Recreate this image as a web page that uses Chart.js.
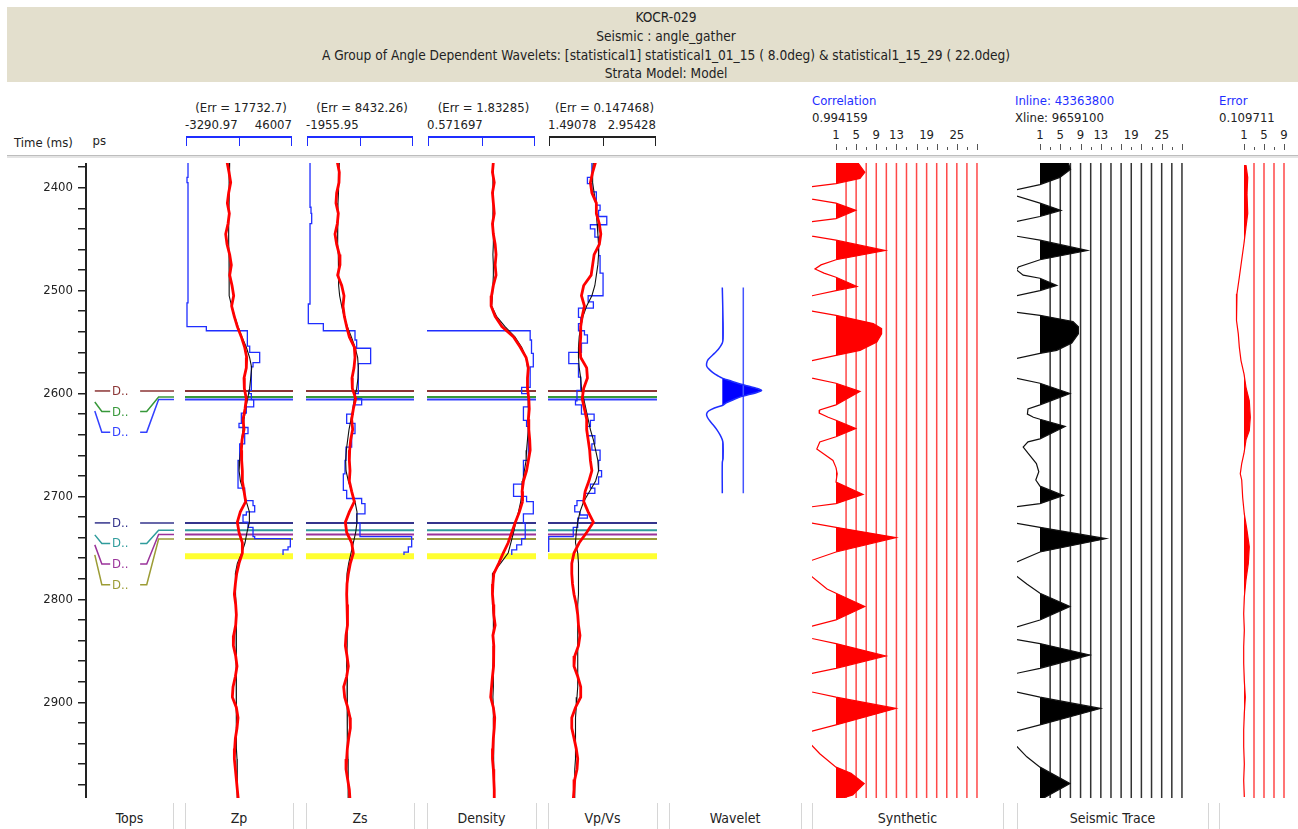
<!DOCTYPE html>
<html>
<head>
<meta charset="utf-8">
<style>
html, body { margin: 0; padding: 0; background: #fff; }
#page { position: relative; width: 1298px; height: 829px; overflow: hidden; font-family: "DejaVu Sans Condensed", "DejaVu Sans", sans-serif; color: #222; }
.t { position: absolute; white-space: nowrap; line-height: 16px; font-size: 13px; }
canvas { position: absolute; }
#banner { position: absolute; left: 7px; top: 7px; width: 1291px; height: 75px; background: #e3dfcd; }
</style>
</head>
<body>
<div id="page"><div id="banner"></div></div>
<script src="https://cdn.jsdelivr.net/npm/chart.js@4.4.1/dist/chart.umd.min.js"></script>
<script>
// ==================== DATOS ====================

const titleLines = [
  "KOCR-029",
  "Seismic : angle_gather",
  "A Group of Angle Dependent Wavelets: [statistical1] statistical1_01_15 ( 8.0deg) & statistical1_15_29 ( 22.0deg)",
  "Strata Model: Model",
];
const trackNames = ["Tops", "Zp", "Zs", "Density", "Vp/Vs", "Wavelet", "Synthetic", "Seismic Trace"];
const timeRange = [2376, 2993];

// log tracks: Zp, Zs, Density, Vp/Vs
const logErr = ["17732.7", "8432.26", "1.83285", "0.147468"];
const logMin = [-3290.97, -1955.95, 0.571697, 1.49078];
const logMax = [46007, 24000, 3.0, 2.95428];
const logMaxShown = [true, false, false, true];

// sample times of the log curves (ms)
const logTimes = Array.from({ length: 63 }, (_, i) => 2375 + 10 * i);

const zpBlack = [17100,16950,16800,16800,16800,16650,16650,16650,16650,16800, 16800,16800,16800,17100,18000,19400,20900,22700,24700,26200, 27150,26700,26200,25300,24400,23650,23200,22600,22100,21700, 21400,22000,23500,24700,26100,26100,25000,24100,22600,20600, 19700,19700,19850,20000,20150,20150,20300,20150,20150,20150, 20000,20000,20000,20150,20150,20300,20300,20300,20450,20450, 20600,20600,20600];
const zpRed = [15900,16800,17560,16650,16040,16950,16350,15280,15890,17100, 17860,17100,18170,18930,18000,19200,20600,22430,23950,24870, 24700,23650,23800,24700,24100,23200,23650,22740,22430,22580, 22890,22890,23650,24410,21970,20600,21370,22890,22890,21370, 20300,19700,19230,19850,20150,19850,18930,18780,19850,20450, 19700,18630,18320,20150,20910,20450,19700,19390,19240,19700, 20150,20600,21060];
const zpBlueT = [2375,2390,2395,2512,2535,2539,2554,2560,2570,2574,2597,2600,2606,2613,2619,2629,2633,2639,2649,2665,2692,2704,2709,2715,2718,2725,2730,2739,2741,2749,2752,2757];
const zpBlueV = [-1920,-2380,-1920,-2380,6450,25170,26240,30800,27760,27000,25930,27000,28060,24710,22430,21360,25470,23950,21670,20910,23950,27760,28520,24710,23190,25470,27760,28520,44800,43740,41460,41460];

const zsBlack = [6050,5970,5890,5810,5730,5650,5570,5650,5730,5810, 5810,5890,5970,6130,6620,7180,7980,8940,9820,10460, 10620,10540,10220,9660,9340,8860,8380,8060,7740,7580, 7660,8220,9020,9820,10300,10300,9980,9420,8860,8300, 7900,7820,7820,7820,7820,7900,7980,7900,7820,7820, 7900,7980,8060,7980,7900,7900,7980,8060,8140,8140, 8140,8220,8220];
const zsRed = [5570,6050,5970,5410,5250,5810,5570,5010,5410,6050, 6210,5650,6620,7180,6940,7260,7820,8460,9660,9820, 9580,9100,9180,9980,9420,9020,9260,8780,8540,8460, 8620,8460,9020,9660,8460,7500,7820,9020,9420,8700, 8220,7900,7820,7900,7980,8060,7660,7500,7900,8220, 7820,7100,7340,8060,8620,8700,8300,7980,7820,7660, 8060,8460,8620];
const zsBlueT = [2376,2419,2425,2435,2513,2532,2539,2548,2556,2571,2600,2605,2611,2620,2629,2639,2652,2665,2678,2694,2702,2707,2717,2726,2739,2749,2754,2757];
const zsBlueV = [-990,-750,-590,-990,-1400,2210,9820,10220,13580,10620,9820,11420,9420,7820,9820,9020,7660,7420,7020,7820,11420,12220,10220,11020,23440,22640,21590,21590];

const densBlack = [2.05,2.05,2.04,2.05,2.05,2.04,2.05,2.05,2.05,2.04, 2.05,2.05,2.04,2.03,2.01,2.12,2.31,2.53,2.68,2.78, 2.81,2.82,2.81,2.83,2.83,2.83,2.83,2.81,2.79,2.78, 2.74,2.71,2.69,2.66,2.61,2.55,2.50,2.44,2.38,2.21, 2.03,2.02,2.03,2.04,2.05,2.05,2.06,2.05,2.05,2.04, 2.05,2.05,2.04,2.05,2.05,2.06,2.06,2.05,2.05,2.06, 2.06,2.06,2.07];
const densRed = [2.05,2.03,2.07,2.03,2.05,2.07,2.03,2.05,2.09,2.11, 2.09,2.11,2.05,2.01,2.00,2.09,2.24,2.50,2.65,2.78, 2.83,2.81,2.81,2.84,2.85,2.83,2.84,2.86,2.87,2.83, 2.79,2.72,2.69,2.70,2.63,2.54,2.46,2.38,2.27,2.17, 2.06,2.04,2.03,2.05,2.06,2.09,2.04,2.06,2.06,2.05, 2.03,2.01,1.99,2.05,2.08,2.07,2.05,2.04,2.03,2.05, 2.06,2.07,2.07];
const densBlueT = [2375,2539,2548,2561,2574,2594,2600,2613,2626,2632,2665,2688,2700,2705,2717,2726,2741,2747,2752,2757];
const densBlueV = [0.3,2.87,2.90,2.94,2.87,2.68,2.83,2.72,2.79,2.83,2.72,2.50,2.79,2.94,2.72,2.76,2.68,2.57,2.46,2.46];

const vpvsBlack = [2.10,2.09,2.09,2.11,2.13,2.14,2.15,2.16,2.17,2.17, 2.16,2.14,2.12,2.08,2.01,1.96,1.93,1.91,1.90,1.90, 1.91,1.93,1.94,1.97,2.00,2.03,2.06,2.10,2.13,2.16, 2.17,2.13,2.05,1.97,1.92,1.89,1.87,1.86,1.89,1.90, 1.90,1.90,1.90,1.89,1.89,1.89,1.89,1.89,1.89,1.89, 1.89,1.89,1.88,1.87,1.86,1.86,1.86,1.86,1.86,1.85, 1.85,1.85,1.85];
const vpvsRed = [2.13,2.09,2.06,2.08,2.14,2.14,2.18,2.20,2.18,2.11, 2.09,2.07,1.97,1.94,1.98,1.95,1.93,1.93,1.92,1.93, 2.01,2.02,1.97,1.95,1.98,2.01,2.01,2.03,2.05,2.06, 2.08,2.04,1.99,1.97,2.03,2.10,2.01,1.91,1.84,1.81, 1.81,1.82,1.84,1.87,1.89,1.90,1.92,1.90,1.85,1.84, 1.89,1.93,1.93,1.86,1.81,1.81,1.84,1.87,1.89,1.88, 1.85,1.84,1.83];
const vpvsBlueT = [2376,2390,2396,2404,2417,2422,2428,2436,2440,2448,2466,2483,2505,2511,2517,2526,2532,2539,2543,2551,2560,2571,2584,2597,2607,2611,2620,2626,2632,2641,2649,2655,2665,2675,2681,2688,2692,2697,2704,2709,2715,2718,2721,2730,2739,2754];
const vpvsBlueV = [2.08,2.02,2.08,2.14,2.19,2.17,2.28,2.06,2.12,2.17,2.19,2.23,2.03,2.10,1.90,1.93,1.90,1.98,2.02,1.94,1.77,1.90,1.93,1.88,1.86,1.94,2.11,2.06,2.02,2.12,2.08,2.19,2.17,2.21,2.17,2.06,2.12,1.98,1.88,1.85,1.92,2.02,1.89,1.83,1.50,1.50];

// well tops
const topNames = ["D..", "D..", "D..", "D..", "D..", "D..", "D.."];
const topTimes = [2597.5, 2603.3, 2605.8, 2725.7, 2732.8, 2737.0, 2741.3];
const topColors = ["#8b3434", "#37983a", "#3340ff", "#34348c", "#2f9c9c", "#9a339a", "#9c9c35"];
const markerTime = 2758;

// wavelet (lag in ms around its centre)
const waveletCenter = 2597;
const waveletLags = [-100,-66,-50,-46,-40,-36,-30,-26,-23,-20,-17,-14,-12,-9,-6,-4,-2,0,2,4,6,9,12,14.6,17,20,23,26,30,34,38,43,48,52,66,70,100];
const waveletAmp = [0,0.02,0.02,0,-0.10,-0.20,-0.36,-0.40,-0.39,-0.32,-0.23,-0.10,0,0.24,0.48,0.68,0.88,1.0,0.88,0.68,0.48,0.28,0.10,0,-0.20,-0.35,-0.40,-0.38,-0.31,-0.22,-0.14,-0.06,0,0.02,0.02,0,0];

// synthetic trace
const synthTimes = [2373,2385,2391,2396,2399,2405,2411,2415,2422,2430,2433,2440,2447,2451,2461,2470,2475,2479,2483,2487,2496,2500,2505,2512,2520,2524,2532,2537,2542,2550,2558,2563,2568,2576,2585,2590,2598,2611,2616,2619,2623,2626,2634,2642,2647,2654,2658,2665,2672,2678,2686,2698,2707,2710,2718,2726,2730,2740,2754,2762,2770,2778,2790,2794,2807,2820,2826,2832,2838,2843,2855,2867,2872,2881,2890,2895,2906,2922,2928,2935,2942,2950,2963,2969,2979,2990,2995];
const synthAmp = [0.33,0.48,0.40,0,-0.40,-0.67,-0.40,0,0.33,0,-0.40,-0.92,-0.40,0,0.82,0,-0.25,-0.35,-0.20,0,0.35,0,-0.40,-0.83,-0.40,0,0.62,0.76,0.76,0.68,0.40,0,-0.40,-0.92,-0.40,0,0.40,0,-0.27,-0.28,-0.13,0,0.33,0,-0.27,-0.32,-0.22,-0.05,0,0.02,0,0.45,0,-0.40,-0.92,-0.40,0,1.0,0,-0.40,-0.83,-0.40,-0.15,0,0.48,0,-0.40,-0.75,-0.40,0,0.83,0,-0.40,-0.83,-0.40,0,1.0,0,-0.40,-0.67,-0.40,-0.27,0,0.25,0.47,0.28,0];

// seismic trace
const seisTimes = [2373,2382,2390,2397,2402,2405,2408,2415,2422,2428,2433,2440,2447,2451,2461,2470,2477,2480,2485,2488,2495,2500,2505,2512,2521,2524,2530,2535,2542,2551,2558,2561,2566,2575,2585,2590,2600,2611,2615,2620,2623,2625,2632,2644,2647,2652,2658,2668,2676,2684,2690,2699,2707,2710,2718,2726,2730,2741,2754,2764,2770,2777,2785,2794,2807,2820,2827,2833,2839,2843,2854,2867,2872,2881,2890,2895,2906,2922,2928,2935,2942,2953,2963,2979,2995];
const seisAmp = [0.45,0.51,0.33,0,-0.40,-0.58,-0.40,0,0.35,0,-0.40,-0.85,-0.40,0,0.79,0,-0.36,-0.39,-0.28,0,0.28,0,-0.40,-0.85,-0.40,0,0.55,0.64,0.64,0.53,0.28,0,-0.40,-0.92,-0.40,0,0.50,0,-0.20,-0.21,-0.11,0,0.42,0,-0.20,-0.28,-0.20,-0.06,-0.02,-0.07,0,0.39,0,-0.40,-0.92,-0.40,0,1.10,0,-0.40,-0.70,-0.40,-0.22,0,0.50,0,-0.40,-0.70,-0.40,0,0.83,0,-0.40,-0.90,-0.40,0,1.01,0,-0.40,-0.65,-0.40,-0.22,0,0.50,0];

// error trace
const errTimes = [2378,2390,2406,2425,2438,2454,2470,2487,2503,2516,2529,2542,2555,2568,2581,2594,2607,2623,2636,2645,2658,2668,2678,2684,2701,2717,2733,2749,2765,2781,2798,2814,2830,2846,2862,2879,2895,2911,2927,2943,2960,2976,2992];
const errAmp = [0.033,0.062,0.05,0.062,0.033,0,-0.038,-0.078,-0.117,-0.133,-0.117,-0.095,-0.078,-0.05,0,0.033,0.088,0.105,0.088,0.033,0,-0.038,-0.062,-0.038,-0.022,0.005,0.05,0.088,0.072,0.033,0.005,-0.005,0.005,-0.005,-0.005,0.005,0.022,0.005,-0.005,-0.005,0.005,-0.005,0.005];

const traceAngleLabels = [1, 5, 9, 13, 19, 25];
const errAngleLabels = [1, 5, 9];
const correlation = "0.994159";
const inlineNo = "43363800";
const xlineNo = "9659100";
const errorValue = "0.109711";

// ==================== MAQUETACIÓN ====================

const page = document.getElementById("page");
const FONT = "'DejaVu Sans Condensed', 'DejaVu Sans', sans-serif";
const PLOT_TOP = 163, PLOT_H = 635;
const BLUE = "#1f2eff";

const trackBox = [
  { left: 86, right: 173 },   // Tops
  { left: 185, right: 293 },  // Zp
  { left: 306, right: 414 },  // Zs
  { left: 427, right: 536 },  // Density
  { left: 548, right: 657 },  // Vp/Vs
  { left: 669, right: 801 },  // Wavelet
  { left: 812, right: 1003 }, // Synthetic
  { left: 1017, right: 1208 },// Seismic
  { left: 1219, right: 1298 },// Error
];

function text(str, x, yc, opt = {}) {
  const d = document.createElement("div");
  d.className = "t";
  d.textContent = str;
  d.style.top = yc - 8 + "px";
  if (opt.align === "center") {
    d.style.left = x + "px";
    d.style.transform = "translateX(-50%)";
  } else if (opt.align === "right") {
    d.style.right = 1298 - x + "px";
  } else {
    d.style.left = x + "px";
  }
  if (opt.size) d.style.fontSize = opt.size + "px";
  if (opt.color) d.style.color = opt.color;
  page.appendChild(d);
  return d;
}

function box(x, y, w, h, css) {
  const d = document.createElement("div");
  d.style.position = "absolute";
  d.style.left = x + "px";
  d.style.top = y + "px";
  d.style.width = w + "px";
  d.style.height = h + "px";
  Object.assign(d.style, css || {});
  page.appendChild(d);
  return d;
}

function makeChart(left, right, xMin, xMax, datasets, yExtra) {
  const c = document.createElement("canvas");
  const w = right - left;
  c.width = w;
  c.height = PLOT_H;
  c.style.left = left + "px";
  c.style.top = PLOT_TOP + "px";
  c.style.width = w + "px";
  c.style.height = PLOT_H + "px";
  page.appendChild(c);
  return new Chart(c, {
    type: "line",
    data: { datasets },
    options: {
      indexAxis: "y",
      responsive: false,
      animation: false,
      events: [],
      layout: { padding: 0, autoPadding: false },
      plugins: { legend: { display: false }, tooltip: { enabled: false } },
      elements: { point: { radius: 0 }, line: { tension: 0, borderCapStyle: "butt" } },
      scales: {
        x: { type: "linear", display: false, min: xMin, max: xMax },
        y: Object.assign(
          { type: "linear", display: false, min: timeRange[0], max: timeRange[1], reverse: true },
          yExtra || {}
        ),
      },
    },
  });
}

function hline(t, color, width, x0, x1, order) {
  return { data: [{ x: x0, y: t }, { x: x1, y: t }], borderColor: color, borderWidth: width, order };
}

function pairs(xs, ts) {
  return ts.map((t, i) => ({ x: xs[i], y: t }));
}

// parte positiva de una traza, con los cruces por cero
function lobes(times, amps, gain) {
  const pts = [];
  for (let i = 0; i < times.length; i++) {
    if (i > 0 && amps[i - 1] * amps[i] < 0) {
      const f = amps[i - 1] / (amps[i - 1] - amps[i]);
      pts.push({ x: 0, y: times[i - 1] + f * (times[i] - times[i - 1]) });
    }
    pts.push({ x: Math.max(0, amps[i]) * gain, y: times[i] });
  }
  return pts;
}

// ==================== CABECERA ====================

titleLines.forEach((s, i) => text(s, 666, 17 + i * 18.8, { align: "center", size: 13.6 }));
box(7, 155, 1291, 1, { background: "#bdbdbd" });
box(7, 156, 1291, 2, { background: "#e4e4e4" });
text("Time (ms)", 14, 143);
const clip = box(92, 133, 14, 16, { overflow: "hidden" });
const clipTxt = document.createElement("div");
clipTxt.className = "t";
clipTxt.style.right = "0px";
clipTxt.style.top = "0px";
clipTxt.textContent = "Tops";
clip.appendChild(clipTxt);

// ==================== TOPS + EJE DE TIEMPO ====================

const labelTimes = [];
topTimes.forEach((t, i) => {
  labelTimes.push(i === 0 ? t : Math.max(t, labelTimes[i - 1] + 20));
});

const topsSets = [];
topTimes.forEach((t, i) => {
  const lt = labelTimes[i];
  const st = t + 0.35 * (lt - t);
  topsSets.push({ data: [{ x: 10, y: st }, { x: 18, y: lt }, { x: 27.5, y: lt }], borderColor: topColors[i], borderWidth: 1.5 });
  topsSets.push({ data: [{ x: 61.5, y: lt }, { x: 69, y: lt }, { x: 82.5, y: t }, { x: 100, y: t }], borderColor: topColors[i], borderWidth: 1.5 });
});

const topsChart = makeChart(0, 174, 0, 100, topsSets, {
  display: true,
  position: "left",
  afterFit: (s) => {
    s.width = 86;
    s.paddingTop = 0;
    s.paddingBottom = 0;
  },
  border: { display: true, color: "#222", width: 2 },
  grid: { display: true, drawOnChartArea: false, drawTicks: true, tickLength: 8, color: "#222", lineWidth: 1.5 },
  ticks: {
    stepSize: 20,
    autoSkip: false,
    includeBounds: false,
    padding: 5,
    color: "#222",
    font: { family: FONT, size: 13 },
    callback: (v) => (v % 100 === 0 ? String(v) : ""),
  },
});

topNames.forEach((n, i) => {
  const x = topsChart.scales.x.getPixelForValue(29.5);
  const y = PLOT_TOP + topsChart.scales.y.getPixelForValue(labelTimes[i]);
  text(n, x, y, { color: topColors[i], size: 13 });
});

// ==================== REGISTROS ====================

const logSeries = [
  { black: zpBlack, red: zpRed, bt: zpBlueT, bv: zpBlueV, bracket: BLUE },
  { black: zsBlack, red: zsRed, bt: zsBlueT, bv: zsBlueV, bracket: BLUE },
  { black: densBlack, red: densRed, bt: densBlueT, bv: densBlueV, bracket: BLUE },
  { black: vpvsBlack, red: vpvsRed, bt: vpvsBlueT, bv: vpvsBlueV, bracket: "#222" },
];

logSeries.forEach((s, k) => {
  const tb = trackBox[k + 1];
  const lo = logMin[k], hi = logMax[k];
  const ds = [];
  topTimes.forEach((t, i) => ds.push(hline(t, topColors[i], 2, lo, hi, 3)));
  ds.push(hline(markerTime, "#ffff30", 6, lo, hi, 4));
  ds.push({ data: pairs(s.bv, s.bt), borderColor: BLUE, borderWidth: 1.3, stepped: "after", order: 2 });
  ds.push({ data: pairs(s.black, logTimes), borderColor: "#111", borderWidth: 1.1, order: 1 });
  ds.push({ data: pairs(s.red, logTimes), borderColor: "#ff0000", borderWidth: 2.8, order: 0 });
  makeChart(tb.left, tb.right, lo, hi, ds);

  // cabecera del track
  const cx = (tb.left + tb.right) / 2;
  text("(Err = " + logErr[k] + ")", cx + 2, 108, { align: "center" });
  text(String(lo), tb.left, 125);
  if (logMaxShown[k]) text(String(hi), tb.right - 1, 125, { align: "right" });
  box(tb.left + 1, 136, tb.right - tb.left - 2, 10, {
    borderTop: "2px solid " + s.bracket,
    borderLeft: "1px solid " + s.bracket,
    borderRight: "1px solid " + s.bracket,
    boxSizing: "border-box",
  });
  box(cx, 136, 1, 10, { background: s.bracket });
});

// ==================== WAVELET ====================

{
  const tb = trackBox[5];
  const base = 722.3, ampPx = 39.3;
  const xMin = (tb.left - base) / ampPx, xMax = (tb.right - base) / ampPx;
  const second = 21 / ampPx;
  const wt = waveletLags.map((l) => waveletCenter + l);
  makeChart(tb.left, tb.right, xMin, xMax, [
    { data: lobes(wt, waveletAmp, 1), borderColor: "transparent", borderWidth: 0, backgroundColor: "#0000ff", fill: "origin", order: 2 },
    { data: pairs(waveletAmp, wt), borderColor: "#1f2eff", borderWidth: 1.5, tension: 0.3, order: 1 },
    { data: [{ x: second, y: wt[0] }, { x: second, y: wt[wt.length - 1] }], borderColor: "#4455ff", borderWidth: 1.5, order: 1 },
  ]);
}

// ==================== TRAZAS ====================

function traceTrack(tb, base, spacing, nLines, times, amps, color, lineColor, fillColor) {
  const ampPx = 60;
  const gain = ampPx / spacing;
  const xMin = (tb.left - base) / spacing, xMax = (tb.right - base) / spacing;
  const ds = [];
  for (let k = 1; k <= nLines; k++) {
    ds.push({ data: [{ x: k, y: timeRange[0] }, { x: k, y: timeRange[1] }], borderColor: lineColor, borderWidth: 1.5, order: 3 });
  }
  ds.push({ data: lobes(times, amps, gain), borderColor: "transparent", borderWidth: 0, backgroundColor: fillColor, fill: "origin", order: 1 });
  ds.push({ data: pairs(amps.map((a) => a * gain), times), borderColor: color, borderWidth: 1.2, order: 0 });
  return makeChart(tb.left, tb.right, xMin, xMax, ds);
}

function angleHeader(chart, tb, labels, nTicks) {
  const sx = chart.scales.x;
  labels.forEach((a) => {
    const k = (a - 1) / 2;
    text(String(a), tb.left + sx.getPixelForValue(k), 135, { align: "center" });
  });
  for (let k = 0; k <= nTicks; k++) {
    const x = Math.round(tb.left + sx.getPixelForValue(k));
    const h = k % 2 === 0 ? 6 : 3;
    box(x, 150 - h, 1, h, { background: "#555" });
  }
}

const synthChart = traceTrack(trackBox[6], 836, 10.07, 14, synthTimes, synthAmp, "#ff0000", "rgba(255,40,40,0.85)", "#ff0000");
const seisChart = traceTrack(trackBox[7], 1040, 10.14, 14, seisTimes, seisAmp, "#111", "#333", "#000");
const errChart = traceTrack(trackBox[8], 1244, 10, 4, errTimes, errAmp, "#ff0000", "rgba(255,40,40,0.85)", "#ff0000");

text("Correlation", 812, 101, { color: BLUE });
text(correlation, 812, 118);
angleHeader(synthChart, trackBox[6], traceAngleLabels, 14);

text("Inline: " + inlineNo, 1015, 101, { color: BLUE });
text("Xline: " + xlineNo, 1015, 118);
angleHeader(seisChart, trackBox[7], traceAngleLabels, 14);

text("Error", 1219, 101, { color: BLUE });
text(errorValue, 1219, 118);
angleHeader(errChart, trackBox[8], errAngleLabels, 4);

// ==================== PIE ====================

trackNames.forEach((n, i) => {
  const tb = trackBox[i];
  text(n, (tb.left + tb.right) / 2, 818, { align: "center", size: 14 });
});
trackBox.forEach((tb, i) => {
  if (i > 0) box(tb.left, 803, 1, 26, { background: "#d6d6d6" });
  if (i < trackBox.length - 1) box(tb.right, 803, 1, 26, { background: "#d6d6d6" });
});
</script>
</body>
</html>
